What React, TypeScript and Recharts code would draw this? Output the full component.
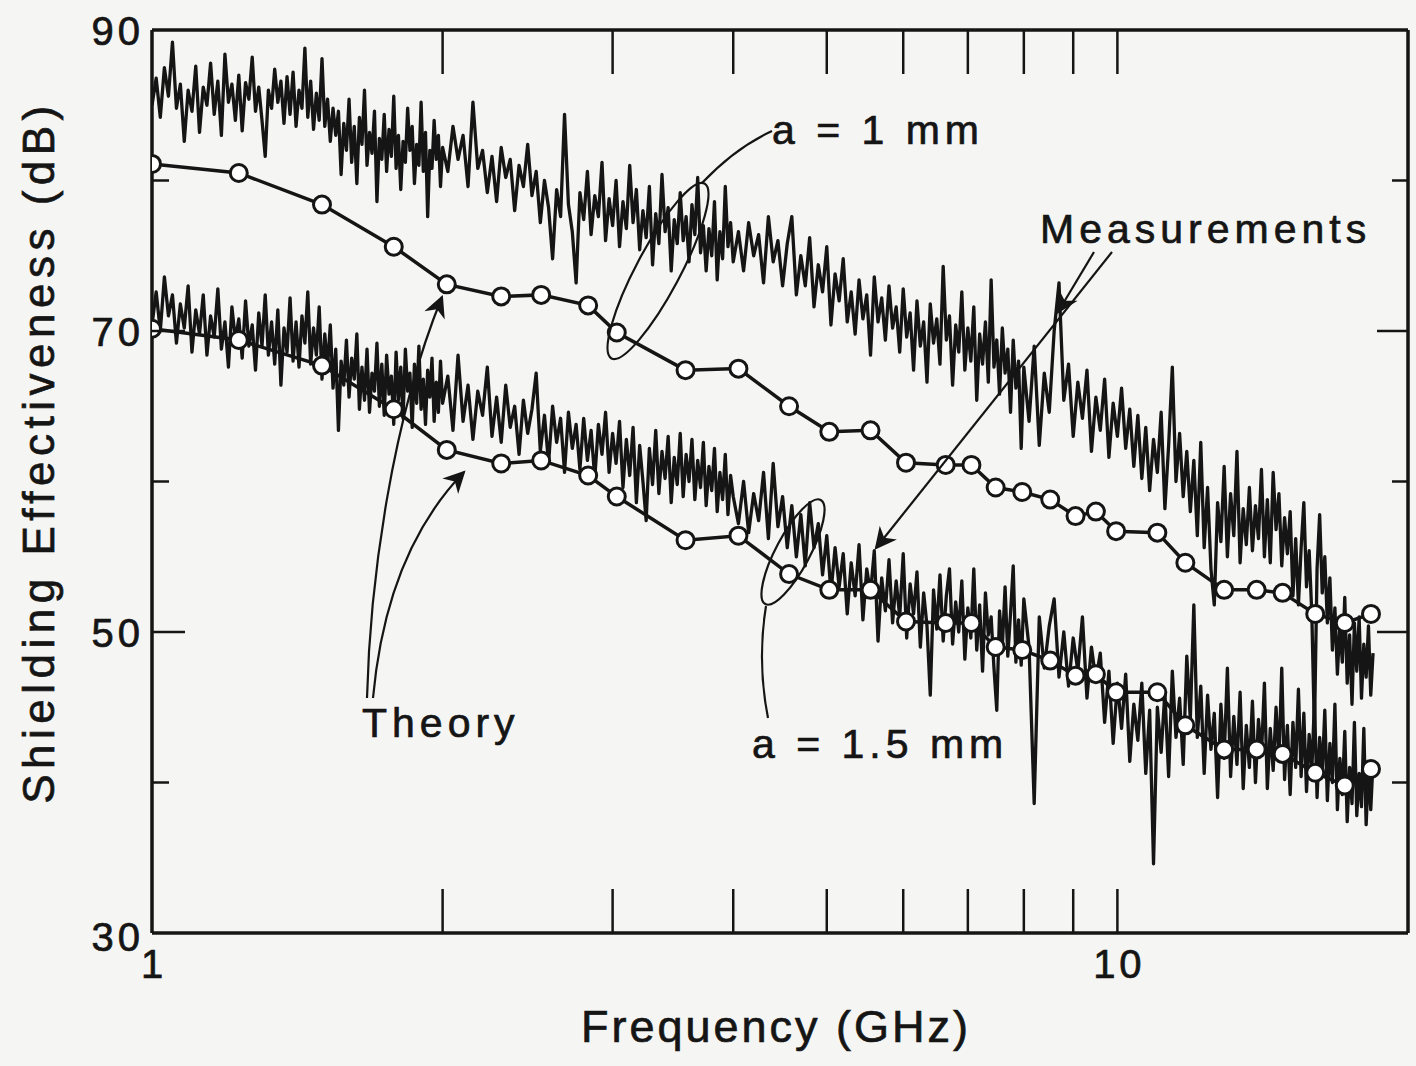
import React from "react"
import { LineChart, Line, XAxis, YAxis } from "recharts"

// measured sweep (GHz), shared by both measurement traces
const measFreq = [
  1.0, 1.01, 1.02, 1.03, 1.04, 1.05, 1.06, 1.07, 1.08, 1.09, 1.1, 1.11, 1.12, 1.13, 1.14, 1.15, 1.16, 1.17, 1.18, 1.19,
  1.2, 1.21, 1.22, 1.23, 1.24, 1.25, 1.26, 1.27, 1.28, 1.29, 1.3, 1.31, 1.32, 1.33, 1.34, 1.35, 1.36, 1.37, 1.38, 1.39,
  1.4, 1.41, 1.42, 1.43, 1.44, 1.45, 1.46, 1.47, 1.48, 1.49, 1.5, 1.51, 1.52, 1.53, 1.54, 1.55, 1.56, 1.57, 1.58, 1.59,
  1.6, 1.61, 1.62, 1.63, 1.64, 1.65, 1.66, 1.67, 1.68, 1.69, 1.7, 1.71, 1.72, 1.73, 1.74, 1.75, 1.76, 1.77, 1.78, 1.79,
  1.8, 1.81, 1.82, 1.83, 1.84, 1.85, 1.86, 1.87, 1.88, 1.89, 1.9, 1.91, 1.92, 1.93, 1.94, 1.95, 1.96, 1.97, 1.98, 1.99,
  2.0,
  2.025, 2.05, 2.075, 2.1, 2.125, 2.15, 2.175, 2.2, 2.225, 2.25, 2.275, 2.3, 2.325, 2.35, 2.375, 2.4, 2.425, 2.45, 2.475, 2.5,
  2.525, 2.55, 2.575, 2.6, 2.625, 2.65, 2.675, 2.7, 2.725, 2.75, 2.775, 2.8, 2.825, 2.85, 2.875, 2.9, 2.925, 2.95, 2.975, 3.0,
  3.025, 3.05, 3.075, 3.1, 3.125, 3.15, 3.175, 3.2, 3.225, 3.25, 3.275, 3.3, 3.325, 3.35, 3.375, 3.4, 3.425, 3.45, 3.475, 3.5,
  3.525, 3.55, 3.575, 3.6, 3.625, 3.65, 3.675, 3.7, 3.725, 3.75, 3.775, 3.8, 3.825, 3.85, 3.875, 3.9, 3.925, 3.95, 3.975, 4.0,
  4.05, 4.1, 4.15, 4.2, 4.25, 4.3, 4.35, 4.4, 4.45, 4.5, 4.55, 4.6, 4.65, 4.7, 4.75, 4.8, 4.85, 4.9, 4.95, 5.0,
  5.05, 5.1, 5.15, 5.2, 5.25, 5.3, 5.35, 5.4, 5.45, 5.5, 5.55, 5.6, 5.65, 5.7, 5.75, 5.8, 5.85, 5.9, 5.95, 6.0,
  6.05, 6.1, 6.15, 6.2, 6.25, 6.3, 6.35, 6.4, 6.45, 6.5, 6.55, 6.6, 6.65, 6.7, 6.75, 6.8, 6.85, 6.9, 6.95, 7.0,
  7.05, 7.1, 7.15, 7.2, 7.25, 7.3, 7.35, 7.4, 7.45, 7.5, 7.55, 7.6, 7.65, 7.7, 7.75, 7.8, 7.85, 7.9, 7.95, 8.0,
  8.1, 8.2, 8.3, 8.4, 8.5, 8.6, 8.7, 8.8, 8.9, 9.0, 9.1, 9.2, 9.3, 9.4, 9.5, 9.6, 9.7, 9.8, 9.9, 10.0,
  10.1, 10.2, 10.3, 10.4, 10.5, 10.6, 10.7, 10.8, 10.9, 11.0, 11.1, 11.2, 11.3, 11.4, 11.5, 11.6, 11.7, 11.8, 11.9, 12.0,
  12.1, 12.2, 12.3, 12.4, 12.5, 12.6, 12.7, 12.8, 12.9, 13.0, 13.1, 13.2, 13.3, 13.4, 13.5, 13.6, 13.7, 13.8, 13.9, 14.0,
  14.1, 14.2, 14.3, 14.4, 14.5, 14.6, 14.7, 14.8, 14.9, 15.0, 15.1, 15.2, 15.3, 15.4, 15.5, 15.6, 15.7, 15.8, 15.9, 16.0,
  16.1, 16.2, 16.3, 16.4, 16.5, 16.6, 16.7, 16.8, 16.9, 17.0, 17.1, 17.2, 17.3, 17.4, 17.5, 17.6, 17.7, 17.8, 17.9, 18.0,
  18.1, 18.2, 18.3, 18.4,
]

// a = 1 mm, measured (dB)
const meas1mm = [
  85.0, 86.8, 84.2, 87.5, 85.6, 89.2, 84.8, 86.4, 82.6, 86.0, 84.6, 87.6, 83.2, 86.2, 85.0, 87.8, 84.4, 86.6, 83.0, 88.4,
  85.2, 86.4, 84.0, 87.0, 83.3, 86.5, 85.4, 88.2, 84.6, 86.2, 84.0, 81.6, 86.0, 84.8, 87.4, 85.2, 86.6, 83.8, 86.9, 84.4,
  87.2, 83.6, 86.0, 84.8, 88.8, 84.2, 86.6, 83.4, 85.8, 84.0, 88.1, 83.6, 85.4, 82.6, 84.8, 83.0, 84.6, 80.4, 83.8, 82.0,
  85.4, 81.2, 83.6, 79.8, 84.2, 82.4, 86.0, 81.0, 83.2, 81.8, 84.6, 78.6, 82.8, 81.4, 84.4, 80.6, 83.4, 81.6, 85.6, 80.8,
  83.0, 79.4, 82.6, 81.2, 84.8, 82.0, 83.6, 79.8, 82.4, 81.0, 85.2, 80.6, 83.2, 77.6, 82.0, 80.8, 84.0, 81.4, 83.0, 79.6,
  82.2,
  80.6, 83.6, 81.4, 83.0, 79.6, 85.2, 80.8, 82.0, 79.2, 81.6, 78.6, 82.2, 80.2, 81.4, 78.0, 81.0, 79.6, 82.4, 79.0, 80.6,
  77.2, 80.0, 78.2, 74.8, 79.4, 77.6, 84.4, 78.4, 76.6, 73.2, 79.2, 77.4, 80.6, 76.4, 79.0, 77.6, 81.2, 76.0, 78.8, 77.0,
  80.0, 75.6, 78.6, 76.8, 81.0, 77.2, 79.4, 75.4, 78.0, 76.2, 79.6, 74.4, 77.8, 75.8, 80.4, 76.6, 78.2, 74.0, 77.4, 75.8,
  79.2, 76.0, 77.6, 74.6, 78.4, 76.4, 80.2, 75.2, 77.0, 74.0, 76.8, 75.0, 78.6, 73.4, 76.6, 74.8, 79.6, 75.6, 77.2, 74.6,
  76.6, 74.0, 77.2, 75.0, 76.4, 73.2, 77.6, 74.6, 76.0, 73.0, 75.8, 77.6, 72.4, 75.0, 73.0, 76.2, 71.6, 74.4, 72.6, 75.6,
  70.4, 73.8, 72.0, 74.8, 70.6, 72.6, 69.8, 73.4, 70.8, 72.4, 68.4, 73.6, 70.6, 72.2, 69.4, 73.0, 70.2, 71.6, 68.6, 72.8,
  69.6, 71.2, 67.4, 72.0, 69.0, 70.6, 66.6, 71.8, 69.2, 70.8, 67.8, 74.3, 69.4, 71.0, 66.4, 70.4, 68.6, 72.6, 67.4, 70.2,
  68.0, 71.6, 65.4, 69.8, 67.8, 70.6, 66.6, 73.4, 67.6, 69.4, 65.8, 70.2, 67.2, 68.8, 64.6, 69.4, 66.2, 68.0, 62.2, 67.6,
  64.0, 69.0, 62.4, 67.2, 64.6, 70.0, 73.2, 65.4, 67.8, 63.0, 66.6, 64.2, 67.4, 62.0, 65.6, 63.4, 66.8, 61.6, 65.2, 63.0,
  66.2, 62.2, 64.8, 61.0, 64.4, 60.2, 63.6, 59.4, 62.8, 60.6, 64.6, 58.2, 62.4, 67.6, 60.0, 63.2, 59.0, 62.0, 58.0, 61.4,
  56.4, 62.6, 55.6, 59.6, 54.2, 51.8, 58.6, 56.0, 61.0, 55.0, 59.2, 56.4, 62.0, 54.6, 58.2, 55.8, 59.6, 55.4, 58.4, 56.2,
  60.8, 55.0, 58.8, 54.6, 60.6, 56.8, 59.2, 54.4, 57.6, 55.2, 58.0, 52.4, 56.2, 51.8, 55.6, 58.6, 53.0, 55.4, 51.2, 43.4,
  54.2, 57.8, 52.6, 55.0, 50.6, 53.6, 48.8, 51.6, 47.2, 50.4, 48.0, 52.3, 46.6, 49.8, 45.2, 50.6, 47.4, 51.0, 45.6, 49.2,
  47.0, 50.4, 45.8, 48.6,
]

// a = 1.5 mm, measured (dB)
const meas15mm = [
  70.4, 72.6, 70.0, 73.6, 71.0, 72.4, 69.2, 71.8, 70.2, 73.0, 68.6, 71.4, 69.8, 72.4, 68.4, 71.0, 69.6, 72.8, 68.8, 70.6,
  67.6, 71.6, 69.4, 70.8, 68.2, 72.0, 69.0, 70.4, 67.4, 71.2, 69.0, 72.4, 68.4, 70.6, 67.8, 71.4, 66.4, 70.2, 68.6, 72.2,
  68.0, 70.6, 67.6, 71.0, 69.2, 72.6, 67.8, 70.2, 68.4, 71.6, 66.8, 69.8, 67.6, 70.4, 66.2, 68.8, 63.4, 68.0, 66.4, 69.4,
  65.6, 68.2, 66.8, 69.8, 64.8, 67.6, 65.4, 68.8, 64.6, 67.2, 66.0, 69.2, 65.0, 67.8, 64.4, 68.4, 65.8, 67.0, 63.8, 68.6,
  65.4, 67.6, 64.2, 68.8, 66.0, 67.2, 63.6, 67.8, 65.2, 69.0, 64.8, 66.8, 63.8, 67.4, 65.6, 68.2, 64.0, 66.6, 64.6, 68.0,
  65.2,
  67.0, 63.4, 68.4, 64.0, 66.4, 62.8, 66.0, 64.4, 67.6, 63.0, 65.6, 62.6, 66.4, 63.6, 65.0, 61.8, 65.4, 63.2, 64.8, 67.2,
  62.0, 64.4, 61.2, 65.0, 62.6, 64.2, 60.6, 64.6, 62.2, 63.8, 60.8, 64.2, 61.4, 63.4, 60.2, 63.8, 61.8, 64.6, 60.6, 63.2,
  61.2, 64.0, 59.6, 62.8, 60.4, 63.6, 58.6, 62.4, 60.0, 57.4, 62.2, 59.8, 63.4, 59.2, 62.0, 60.2, 63.0, 58.6, 61.6, 59.8,
  63.2, 59.0, 61.8, 60.0, 62.8, 58.8, 61.4, 59.6, 62.6, 58.4, 61.0, 59.4, 62.2, 58.0, 60.6, 58.8, 61.8, 57.8, 60.4, 59.0,
  57.2, 60.0, 56.6, 59.2, 57.4, 60.6, 56.2, 61.2, 57.0, 59.0, 55.6, 58.4, 55.0, 57.8, 54.4, 58.6, 55.6, 57.2, 53.8, 56.4,
  52.6, 55.6, 53.0, 55.2, 51.2, 54.6, 52.4, 55.8, 50.8, 54.2, 52.6, 55.4, 49.4, 53.6, 51.4, 54.8, 50.6, 53.4, 51.0, 55.2,
  49.6, 53.2, 51.2, 54.0, 49.0, 52.6, 50.4, 45.8, 52.8, 50.2, 53.8, 49.4, 52.4, 54.2, 49.2, 52.0, 50.0, 53.4, 48.2, 51.6,
  49.6, 54.2, 48.8, 51.8, 47.4, 52.6, 49.8, 51.0, 47.6, 44.8, 51.4, 49.0, 53.0, 48.4, 51.2, 54.4, 48.0, 50.8, 47.8, 52.2,
  49.0, 38.6, 51.0, 47.6, 50.4, 52.2, 47.0, 50.0, 46.4, 49.6, 47.4, 51.0, 45.6, 49.0, 46.8, 48.6, 44.0, 47.4, 42.6, 46.6,
  43.6, 47.2, 41.4, 45.2, 42.8, 46.6, 40.6, 44.8, 34.6, 45.0, 42.0, 46.0, 40.4, 47.4, 43.0, 45.6, 41.2, 48.4, 44.2, 51.8,
  43.0, 46.4, 40.6, 45.8, 42.2, 44.6, 39.0, 45.2, 41.6, 47.6, 40.4, 44.4, 41.2, 46.0, 39.6, 43.8, 41.0, 45.4, 40.0, 44.2,
  41.8, 46.6, 39.6, 43.6, 40.8, 45.0, 41.4, 47.6, 40.2, 43.8, 39.2, 44.0, 41.0, 46.2, 40.4, 44.6, 39.4, 43.2, 40.8, 45.4,
  39.0, 43.0, 40.6, 44.8, 38.8, 42.6, 40.0, 45.2, 38.2, 41.6, 39.2, 43.4, 37.4, 41.0, 38.6, 44.0, 37.8, 40.6, 38.4, 43.6,
  37.2, 40.8, 38.2, 41.4,
]

// theory points (GHz), shared by both theory curves
const theoryFreq = [
  1.0, 1.23, 1.5, 1.78, 2.02, 2.3, 2.53, 2.83, 3.03, 3.57, 4.05, 4.57, 5.03, 5.55, 6.04, 6.64,
  7.06, 7.48, 7.97, 8.52, 9.05, 9.5, 9.97, 11.0, 11.76, 12.9, 13.94, 14.83, 16.03, 17.2, 18.31,
]
const theory1mm = [
  81.1, 80.5, 78.4, 75.6, 73.1, 72.3, 72.4, 71.7, 69.9, 67.4, 67.5, 65.0, 63.3, 63.4, 61.25, 61.1,
  61.1, 59.6, 59.3, 58.8, 57.7, 58.0, 56.7, 56.6, 54.6, 52.8, 52.8, 52.6, 51.2, 50.6, 51.2,
]
const theory15mm = [
  70.15, 69.4, 67.7, 64.8, 62.1, 61.2, 61.4, 60.4, 59.0, 56.1, 56.4, 53.85, 52.8, 52.8, 50.7, 50.6,
  50.6, 49.0, 48.8, 48.1, 47.1, 47.2, 46.0, 46.0, 43.8, 42.2, 42.2, 41.9, 40.65, 39.8, 40.9,
]

const xTicks = [1, 2, 3, 4, 5, 6, 7, 8, 9, 10]
const xLabelled = [1, 10]
const yTicks = [30, 40, 50, 60, 70, 80, 90]
const yLabelled = [30, 50, 70, 90]

const meas1Data = measFreq.map((f, i) => ({ f, v: meas1mm[i] }))
const meas15Data = measFreq.map((f, i) => ({ f, v: meas15mm[i] }))
const th1Data = theoryFreq.map((f, i) => ({ f, v: theory1mm[i] }))
const th15Data = theoryFreq.map((f, i) => ({ f, v: theory15mm[i] }))

const INK = "#151515"
const FONT = "'Liberation Sans', Arial, Helvetica, sans-serif"
const textStyle = { fontFamily: FONT, fill: INK, stroke: INK, strokeWidth: 0.7, letterSpacing: 4 }

function BottomTick({ x, y, payload }: any) {
  const v = payload.value
  return (
    <g>
      {v !== 1 && <line x1={x} x2={x} y1={y} y2={y - 44} stroke={INK} strokeWidth={2.5} />}
      {xLabelled.includes(v) && (
        <text x={x + 2} y={y + 31} textAnchor="middle" dominantBaseline="central" fontSize={40} style={textStyle}>
          {v}
        </text>
      )}
    </g>
  )
}

function TopTick({ x, y, payload }: any) {
  if (payload.value === 1) return <g />
  return <line x1={x} x2={x} y1={y} y2={y + 44} stroke={INK} strokeWidth={2.5} />
}

function LeftTick({ x, y, payload }: any) {
  const v = payload.value
  const len = v === 50 || v === 70 ? 33 : 17
  return (
    <g>
      {v !== 30 && v !== 90 && <line x1={x} x2={x + len} y1={y} y2={y} stroke={INK} strokeWidth={2.5} />}
      {yLabelled.includes(v) && (
        <text x={x - 8} y={v === 30 ? y + 4 : y + 1} textAnchor="end" dominantBaseline="central" fontSize={40} style={textStyle}>
          {v}
        </text>
      )}
    </g>
  )
}

function RightTick({ x, y, payload }: any) {
  const v = payload.value
  if (v === 30 || v === 90) return <g />
  const len = v === 50 || v === 70 ? 31 : 16
  return <line x1={x} x2={x - len} y1={y} y2={y} stroke={INK} strokeWidth={2.5} />
}

function Annotations() {
  return (
    <svg width={1416} height={1066} style={{ position: "absolute", left: 0, top: 0, pointerEvents: "none" }}>
      <defs>
        <marker id="headBig" viewBox="0 0 10 10" refX="9" refY="5" markerWidth="26" markerHeight="22" orient="auto" markerUnits="userSpaceOnUse">
          <path d="M0,0 L10,5 L0,10 L3,5 z" fill={INK} />
        </marker>
      </defs>
      <g fill="none" stroke={INK} strokeWidth={2.2}>
        {/* a = 1 mm */}
        <ellipse cx={658} cy={271} rx={99} ry={22} transform="rotate(-62 658 271)" />
        <path d="M 772 131 Q 735 148 702 183" />
        {/* a = 1.5 mm */}
        <ellipse cx={793} cy={552} rx={59} ry={17} transform="rotate(-62 793 552)" />
        <path d="M 768 718 Q 757 662 766 606" />
        {/* Measurements */}
        <path d="M 1094 252 L 1058 312" markerEnd="url(#headBig)" />
        <path d="M 1112 252 L 876 548" markerEnd="url(#headBig)" />
        {/* Theory */}
        <path d="M 367 698 C 370 580 392 420 442 297" markerEnd="url(#headBig)" />
        <path d="M 373 698 C 381 610 408 530 464 472" markerEnd="url(#headBig)" />
      </g>
      <g fontSize={41} style={{ ...textStyle, letterSpacing: 5 }}>
        <text x={772} y={144}>a = 1 mm</text>
        <text x={1040} y={243}>Measurements</text>
        <text x={362} y={737}>Theory</text>
        <text x={752} y={758}>a = 1.5 mm</text>
        <text x={776} y={1042} textAnchor="middle" fontSize={45} style={{ letterSpacing: 3 }}>
          Frequency (GHz)
        </text>
        <text x={0} y={0} textAnchor="middle" fontSize={44} style={{ letterSpacing: 5.5 }} transform="translate(54 452) rotate(-90)">
          Shielding Effectiveness (dB)
        </text>
      </g>
    </svg>
  )
}

export default function App() {
  return (
    <div style={{ position: "absolute", left: 0, top: 0, width: 1416, height: 1066, background: "#f5f5f3", overflow: "hidden" }}>
      <LineChart width={1416} height={1066} margin={{ top: 29, right: 7, bottom: 132, left: 151 }}>
        <XAxis
          dataKey="f"
          type="number"
          scale="log"
          domain={[1, 20]}
          allowDataOverflow
          ticks={xTicks}
          interval={0}
          height={1}
          tickSize={0}
          tickMargin={0}
          tick={BottomTick}
          axisLine={{ stroke: INK, strokeWidth: 3.5 }}
        />
        <XAxis
          xAxisId="top"
          orientation="top"
          dataKey="f"
          type="number"
          scale="log"
          domain={[1, 20]}
          allowDataOverflow
          ticks={xTicks}
          interval={0}
          height={1}
          tickSize={0}
          tickMargin={0}
          tick={TopTick}
          axisLine={{ stroke: INK, strokeWidth: 3.5 }}
        />
        <YAxis
          type="number"
          domain={[30, 90]}
          allowDataOverflow
          ticks={yTicks}
          interval={0}
          width={1}
          tickSize={0}
          tickMargin={0}
          tick={LeftTick}
          axisLine={{ stroke: INK, strokeWidth: 3.5 }}
        />
        <YAxis
          yAxisId="right"
          orientation="right"
          type="number"
          domain={[30, 90]}
          allowDataOverflow
          ticks={yTicks}
          interval={0}
          width={1}
          tickSize={0}
          tickMargin={0}
          tick={RightTick}
          axisLine={{ stroke: INK, strokeWidth: 3.5 }}
        />
        <Line data={meas1Data} dataKey="v" type="linear" stroke={INK} strokeWidth={3.3} strokeLinejoin="round" dot={false} isAnimationActive={false} />
        <Line data={meas15Data} dataKey="v" type="linear" stroke={INK} strokeWidth={3.3} strokeLinejoin="round" dot={false} isAnimationActive={false} />
        <Line
          data={th1Data}
          dataKey="v"
          type="linear"
          stroke={INK}
          strokeWidth={3.5}
          dot={{ r: 8.5, fill: "#ffffff", stroke: INK, strokeWidth: 3 }}
          isAnimationActive={false}
        />
        <Line
          data={th15Data}
          dataKey="v"
          type="linear"
          stroke={INK}
          strokeWidth={3.5}
          dot={{ r: 8.5, fill: "#ffffff", stroke: INK, strokeWidth: 3 }}
          isAnimationActive={false}
        />
      </LineChart>
      <Annotations />
    </div>
  )
}
